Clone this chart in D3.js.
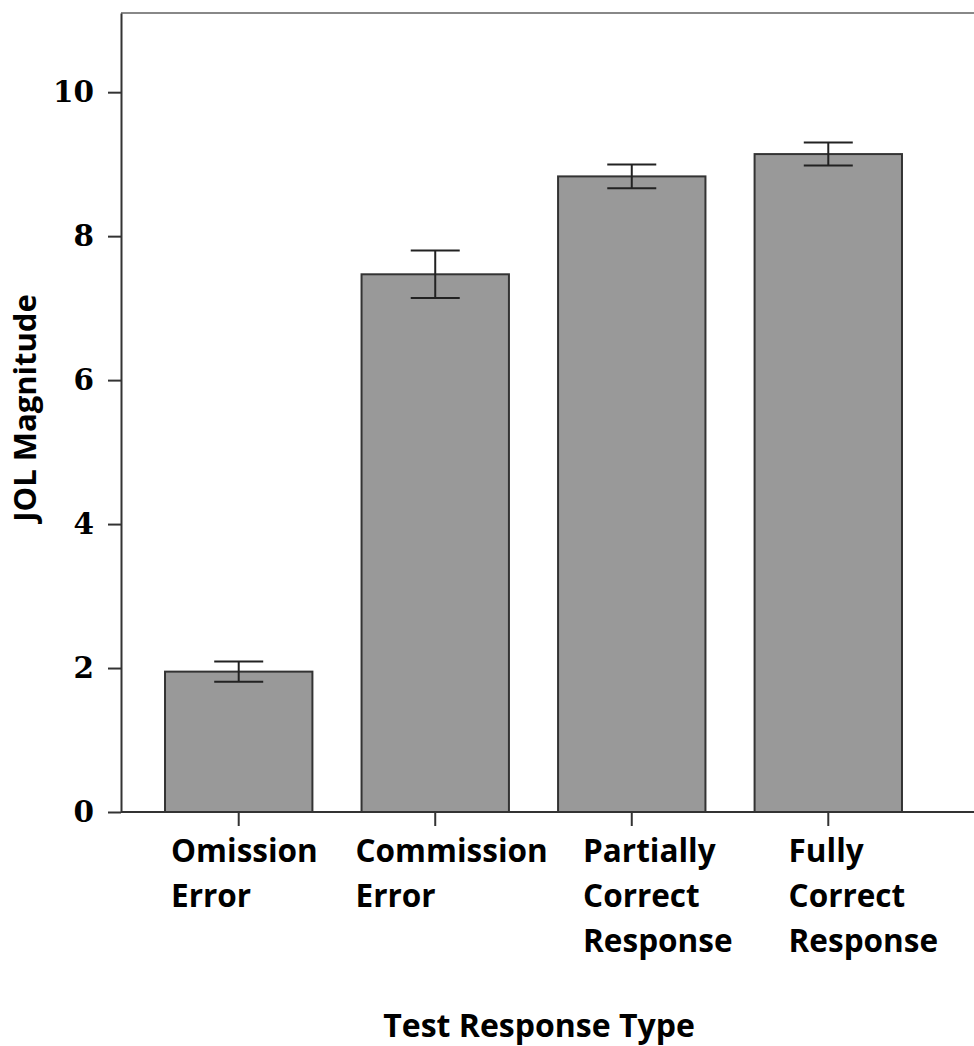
<!DOCTYPE html>
<html>
<head>
<meta charset="utf-8">
<script src="https://cdn.jsdelivr.net/npm/d3@7"></script>
<style>
  body { margin: 0; background: #fff; }
</style>
</head>
<body>
<script>
// Chart data
const categories = ["Omission Error", "Commission Error", "Partially Correct Response", "Fully Correct Response"];
const labelLines = [["Omission", "Error"], ["Commission", "Error"], ["Partially", "Correct", "Response"], ["Fully", "Correct", "Response"]];
const means = [1.95, 7.47, 8.83, 9.14];
const errors = [0.14, 0.33, 0.165, 0.16];
const yTicks = [0, 2, 4, 6, 8, 10];

const W = 974, H = 1046;
const plotLeft = 121, plotTop = 13, baseY = 812;

const svg = d3.select("body").append("svg")
  .attr("width", W)
  .attr("height", H);

// Scales
const x = d3.scaleBand()
  .domain(categories)
  .range([plotLeft, 946])
  .paddingInner(0.25)
  .paddingOuter(0.224);

const y = d3.scaleLinear()
  .domain([0, 11.1])
  .range([baseY, plotTop]);

// Top frame line
svg.append("line")
  .attr("x1", plotLeft).attr("x2", W)
  .attr("y1", plotTop).attr("y2", plotTop)
  .attr("stroke", "#888").attr("stroke-width", 2);

// Bars
svg.selectAll("rect.bar")
  .data(categories)
  .enter()
  .append("rect")
  .attr("class", "bar")
  .attr("x", (d) => x(d))
  .attr("y", (d, i) => y(means[i]))
  .attr("width", x.bandwidth())
  .attr("height", (d, i) => baseY - y(means[i]))
  .attr("fill", "#999")
  .attr("stroke", "#333")
  .attr("stroke-width", 2);

// Error bars
const capHalf = 24.5;
const err = svg.append("g").attr("stroke", "#222").attr("stroke-width", 2);
categories.forEach((c, i) => {
  const cx = x(c) + x.bandwidth() / 2;
  const hi = y(means[i] + errors[i]);
  const lo = y(means[i] - errors[i]);
  err.append("line").attr("x1", cx).attr("x2", cx).attr("y1", hi).attr("y2", lo);
  err.append("line").attr("x1", cx - capHalf).attr("x2", cx + capHalf).attr("y1", hi).attr("y2", hi);
  err.append("line").attr("x1", cx - capHalf).attr("x2", cx + capHalf).attr("y1", lo).attr("y2", lo);
});

// Y axis
const yAxis = d3.axisLeft(y)
  .tickValues(yTicks)
  .tickSize(13)
  .tickPadding(14)
  .tickSizeOuter(0);

const gy = svg.append("g")
  .attr("transform", `translate(${plotLeft},0)`)
  .call(yAxis);
gy.select(".domain").attr("stroke", "#333").attr("stroke-width", 2);
gy.selectAll(".tick line").attr("stroke", "#333").attr("stroke-width", 2);
gy.selectAll(".tick text")
  .attr("fill", "#000")
  .style("font-family", "'DejaVu Serif', serif")
  .style("font-weight", "bold")
  .style("font-size", "29.5px");

// X axis
const xAxis = d3.axisBottom(x)
  .tickSize(14)
  .tickSizeOuter(0)
  .tickFormat("");

const gx = svg.append("g")
  .attr("transform", `translate(0,${baseY})`)
  .call(xAxis);
gx.select(".domain").attr("d", `M${plotLeft},0H${W}`).attr("stroke", "#333").attr("stroke-width", 2);
gx.selectAll(".tick line").attr("stroke", "#333").attr("stroke-width", 2);

// Category labels (left-aligned blocks, nudged as in the original)
const labelShift = [6, -6, 25, 34];
const labels = svg.append("g")
  .style("font-family", "'Open Sans', sans-serif")
  .style("font-weight", "bold")
  .style("font-size", "31.5px")
  .attr("fill", "#000");

categories.forEach((c, i) => {
  const t = labels.append("text")
    .attr("x", x(c) + labelShift[i])
    .attr("y", 862);
  labelLines[i].forEach((line, j) => {
    t.append("tspan")
      .attr("x", x(c) + labelShift[i])
      .attr("dy", j === 0 ? 0 : 45)
      .text(line);
  });
});

// Axis titles
svg.append("text")
  .attr("x", 539)
  .attr("y", 1037)
  .attr("text-anchor", "middle")
  .style("font-family", "'Open Sans', sans-serif")
  .style("font-weight", "bold")
  .style("font-size", "32px")
  .text("Test Response Type");

svg.append("text")
  .attr("transform", "translate(36,408) rotate(-90)")
  .attr("text-anchor", "middle")
  .style("font-family", "'Open Sans', sans-serif")
  .style("font-weight", "bold")
  .style("font-size", "31px")
  .text("JOL Magnitude");
</script>
</body>
</html>
